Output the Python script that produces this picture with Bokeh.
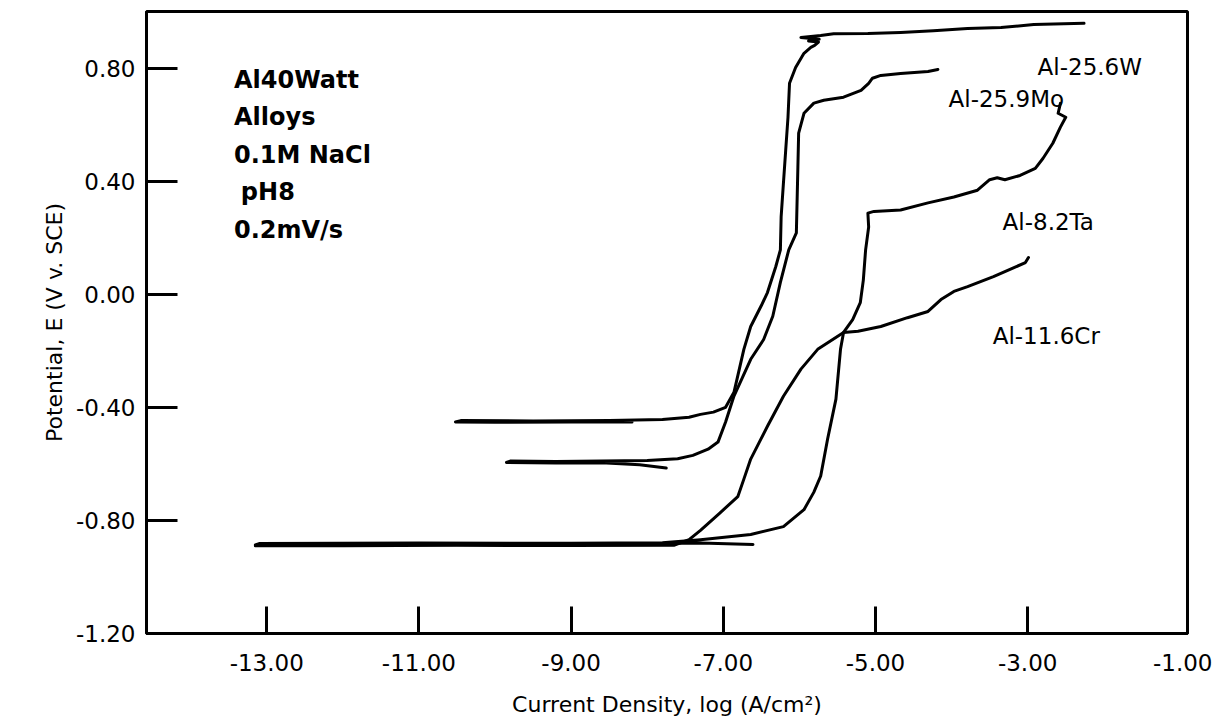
from bokeh.plotting import figure
from bokeh.models import Range1d, FixedTicker, NumeralTickFormatter, CustomJSTickFormatter, Label
from bokeh.embed import file_html
from bokeh.resources import INLINE

# ---- data (log current density, potential V vs SCE) ----
w_x = [-8.2, -9.0, -10.0, -10.52, -10.45, -9.5, -8.5, -7.8, -7.45, -7.30, -7.13, -6.97, -6.86,
       -6.73, -6.64, -6.50, -6.42, -6.31, -6.25, -6.24, -6.21, -6.18, -6.15, -6.13, -6.05,
       -5.94, -5.85, -5.80, -5.75, -5.88, -5.74, -5.98, -5.72, -5.55, -5.10, -4.67, -4.24,
       -3.79, -3.35, -2.92, -2.26]
w_y = [-0.452, -0.452, -0.453, -0.452, -0.447, -0.448, -0.447, -0.443, -0.435, -0.425, -0.417,
       -0.400, -0.347, -0.195, -0.114, -0.040, 0.006, 0.098, 0.157, 0.274, 0.393, 0.510, 0.626,
       0.746, 0.802, 0.852, 0.873, 0.880, 0.892, 0.896, 0.902, 0.908, 0.915, 0.921, 0.922,
       0.926, 0.932, 0.940, 0.943, 0.954, 0.958]

mo_x = [-7.75, -8.1, -8.6, -9.2, -9.85, -9.80, -9.2, -8.6, -8.0, -7.6, -7.40, -7.20, -7.07,
        -6.97, -6.86, -6.64, -6.47, -6.35, -6.25, -6.14, -6.04, -6.02, -6.01, -5.94, -5.81,
        -5.68, -5.42, -5.19, -5.09, -5.04, -4.93, -4.67, -4.31, -4.18]
mo_y = [-0.615, -0.603, -0.596, -0.597, -0.595, -0.590, -0.592, -0.590, -0.588, -0.582, -0.570,
        -0.548, -0.523, -0.452, -0.360, -0.230, -0.160, -0.078, 0.042, 0.157, 0.217, 0.450,
        0.570, 0.640, 0.676, 0.686, 0.697, 0.721, 0.746, 0.764, 0.774, 0.781, 0.788, 0.795]

ta_x = [-6.61, -7.3, -8.5, -10.0, -11.5, -13.15, -13.10, -11.0, -9.0, -7.8, -7.30, -6.64, -6.21,
        -5.94, -5.81, -5.72, -5.63, -5.52, -5.46, -5.42, -5.30, -5.20, -5.16, -5.13, -5.09,
        -5.10, -5.02, -4.67, -4.31, -3.97, -3.66, -3.50, -3.40, -3.30, -3.10, -2.90, -2.80,
        -2.67, -2.57, -2.50, -2.60, -2.57]
ta_y = [-0.885, -0.880, -0.884, -0.886, -0.885, -0.887, -0.882, -0.880, -0.881, -0.879, -0.868,
        -0.850, -0.822, -0.762, -0.700, -0.643, -0.513, -0.371, -0.195, -0.135, -0.090, -0.030,
        0.050, 0.157, 0.238, 0.287, 0.293, 0.298, 0.323, 0.344, 0.368, 0.405, 0.412, 0.405,
        0.420, 0.445, 0.480, 0.534, 0.591, 0.626, 0.640, 0.675]

cr_x = [-13.15, -12.0, -10.5, -9.0, -7.65, -7.45, -7.30, -7.05, -6.81, -6.73, -6.64, -6.42,
        -6.21, -5.98, -5.76, -5.42, -5.23, -4.93, -4.58, -4.31, -4.14, -3.97, -3.79, -3.45,
        -3.18, -3.03, -2.99]
cr_y = [-0.890, -0.890, -0.888, -0.889, -0.888, -0.868, -0.835, -0.775, -0.716, -0.654, -0.583,
        -0.467, -0.361, -0.265, -0.195, -0.135, -0.131, -0.114, -0.083, -0.061, -0.019, 0.010,
        0.027, 0.062, 0.094, 0.112, 0.130]

series_names = ["Al-25.6W", "Al-25.9Mo", "Al-8.2Ta", "Al-11.6Cr"]
x_ticks = [-13, -11, -9, -7, -5, -3, -0.9]   # last tick sits on the frame edge, labelled "-1.00"
y_ticks = [-1.2, -0.8, -0.4, 0.0, 0.4, 0.8]
info_lines = ["Al40Watt", "Alloys", "0.1M NaCl", "pH8", "0.2mV/s"]

FONT = "DejaVu Sans"

p = figure(width=1212, height=725, output_backend="svg", toolbar_location=None,
           x_range=Range1d(-14.58, -0.90), y_range=Range1d(-1.2, 1.0),
           min_border_left=146, min_border_right=25, min_border_top=11, min_border_bottom=92,
           background_fill_color="white", border_fill_color="white")

p.outline_line_color = "black"
p.outline_line_width = 3
p.xgrid.visible = False
p.ygrid.visible = False

for ax in (p.xaxis[0], p.yaxis[0]):
    ax.axis_line_width = 3
    ax.axis_line_color = "black"
    ax.major_tick_line_width = 3
    ax.major_tick_line_color = "black"
    ax.major_tick_out = 0
    ax.minor_tick_line_color = None
    ax.major_label_text_font = FONT
    ax.major_label_text_font_size = "23px"
    ax.major_label_text_color = "black"
    ax.axis_label_text_font = FONT
    ax.axis_label_text_font_size = "22px"
    ax.axis_label_text_font_style = "normal"
    ax.axis_label_text_color = "black"

p.yaxis.formatter = NumeralTickFormatter(format="0.00")
p.xaxis.formatter = CustomJSTickFormatter(
    code="return (tick > -0.95 ? -1 : tick).toFixed(2);")

p.xaxis.ticker = FixedTicker(ticks=x_ticks)
p.yaxis.ticker = FixedTicker(ticks=y_ticks)
p.xaxis.major_tick_in = 27
p.yaxis.major_tick_in = 31
p.xaxis.major_label_standoff = 20
p.yaxis.major_label_standoff = 11
p.xaxis.axis_label = "Current Density, log (A/cm\u00b2)"
p.yaxis.axis_label = "Potential, E (V v. SCE)"
p.xaxis.axis_label_standoff = 18
p.yaxis.axis_label_standoff = 6

for xs, ys in [(w_x, w_y), (mo_x, mo_y), (ta_x, ta_y), (cr_x, cr_y)]:
    p.line(xs, ys, line_color="black", line_width=3, line_join="round", line_cap="round")

label_pos = [(-2.87, 0.802), (-4.04, 0.69), (-3.33, 0.256), (-3.46, -0.149)]
for name, (lx, ly) in zip(series_names, label_pos):
    p.add_layout(Label(x=lx, y=ly, text=name, text_font=FONT, text_font_size="23px",
                       text_color="black", text_align="left", text_baseline="alphabetic"))

info_x = [-13.43, -13.43, -13.43, -13.34, -13.43]
info_y = [0.757, 0.626, 0.492, 0.362, 0.228]
for line, lx, ly in zip(info_lines, info_x, info_y):
    p.add_layout(Label(x=lx, y=ly, text=line, text_font=FONT, text_font_size="24px",
                       text_font_style="bold", text_color="black", text_align="left",
                       text_baseline="alphabetic"))

open("out.html", "w").write(file_html(p, INLINE))
